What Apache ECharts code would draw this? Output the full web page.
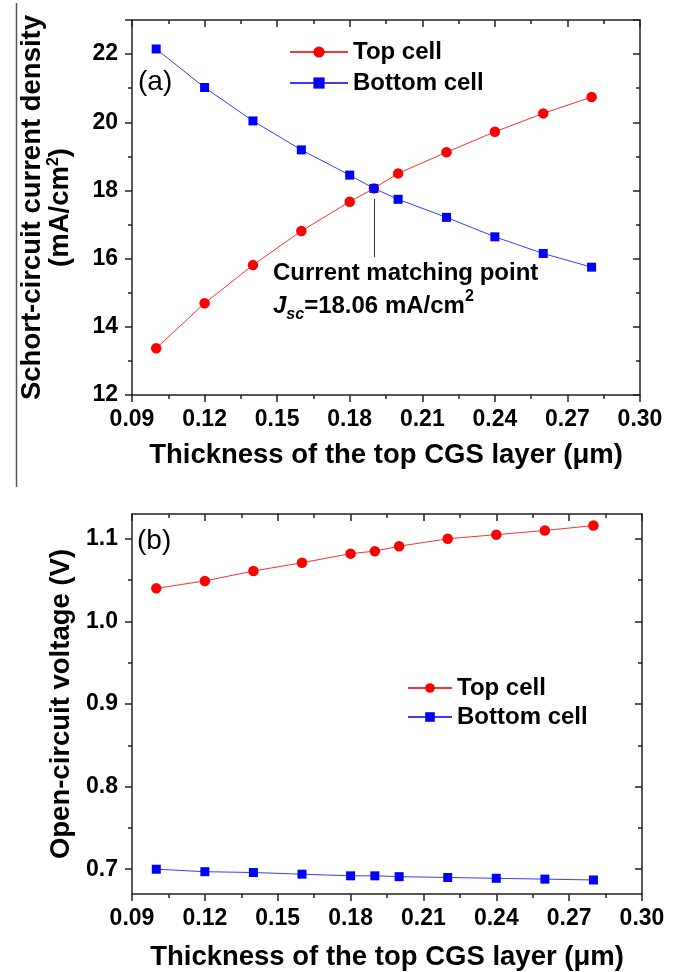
<!DOCTYPE html>
<html>
<head>
<meta charset="utf-8">
<script src="https://cdn.jsdelivr.net/npm/echarts@6/dist/echarts.min.js"></script>
<style>
  html, body { margin: 0; padding: 0; background: #fff; }
  #chart { width: 683px; height: 972px; }
</style>
</head>
<body>
<div id="chart"></div>
<script>
// thickness of the top CGS layer (um)
const thickness = [0.10, 0.12, 0.14, 0.16, 0.18, 0.19, 0.20, 0.22, 0.24, 0.26, 0.28]

// (a) short-circuit current density, mA/cm2
const jscTop = [13.37, 14.69, 15.81, 16.81, 17.67, 18.06, 18.50, 19.12, 19.72, 20.26, 20.74]
const jscBottom = [22.15, 21.02, 20.04, 19.19, 18.45, 18.06, 17.74, 17.21, 16.64, 16.15, 15.75]

// (b) open-circuit voltage, V
const vocTop = [1.040, 1.049, 1.061, 1.071, 1.082, 1.085, 1.091, 1.100, 1.105, 1.110, 1.116]
const vocBottom = [0.700, 0.697, 0.696, 0.694, 0.692, 0.692, 0.691, 0.690, 0.689, 0.688, 0.687]

// tick values for the voltage axis
const vocTicks = [0.7, 0.8, 0.9, 1.0, 1.1]
const vocMinorTicks = [0.75, 0.85, 0.95, 1.05]

// current matching point
const matchX = 0.19
const matchArrow = [16.05, 17.75]

const FONT = '"Liberation Sans", Arial, sans-serif'
const AXIS_COLOR = '#222'
const TITLE_SIZE = 27.5
const TICK_SIZE = 23

const zip = (xs, ys) => xs.map((x, i) => [x, ys[i]])

function xAxisFor(gridIndex, top) {
  return {
    type: 'value',
    gridIndex: gridIndex,
    position: top ? 'top' : 'bottom',
    min: 0.09,
    max: 0.30,
    interval: 0.03,
    name: top ? '' : 'Thickness of the top CGS layer (\u03bcm)',
    nameLocation: 'middle',
    nameGap: gridIndex === 0 ? 46 : 49,
    nameTextStyle: { fontFamily: FONT, fontSize: TITLE_SIZE, fontWeight: 'bold', color: '#000' },
    axisLine: { show: true, onZero: false, lineStyle: { color: AXIS_COLOR, width: 1.5 } },
    axisTick: { show: true, inside: top, length: 7, lineStyle: { color: AXIS_COLOR, width: 1.5 } },
    minorTick: { show: true, splitNumber: 2, length: 4, lineStyle: { color: AXIS_COLOR, width: 1.5 } },
    axisLabel: {
      show: !top,
      margin: 13,
      fontFamily: FONT,
      fontSize: TICK_SIZE,
      fontWeight: 'bold',
      color: '#000',
      formatter: v => v.toFixed(2)
    },
    splitLine: { show: false },
    minorSplitLine: { show: false }
  }
}

function jscAxis(right) {
  return {
    type: 'value',
    gridIndex: 0,
    position: right ? 'right' : 'left',
    min: 12,
    max: 23,
    interval: 2,
    name: right ? '' : 'Schort-circuit current density\n(mA/cm{sup|2})',
    nameLocation: 'middle',
    nameRotate: 90,
    nameGap: 58,
    nameTextStyle: {
      fontFamily: FONT, fontSize: TITLE_SIZE, fontWeight: 'bold', color: '#000', lineHeight: 28,
      rich: { sup: { fontFamily: FONT, fontSize: 16, fontWeight: 'bold', color: '#000', verticalAlign: 'top', lineHeight: 16 } }
    },
    axisLine: { show: true, onZero: false, lineStyle: { color: AXIS_COLOR, width: 1.5 } },
    axisTick: { show: true, inside: right, length: 7, lineStyle: { color: AXIS_COLOR, width: 1.5 } },
    minorTick: { show: true, splitNumber: 2, length: 4, lineStyle: { color: AXIS_COLOR, width: 1.5 } },
    axisLabel: {
      show: !right,
      showMaxLabel: false,
      margin: 14,
      fontFamily: FONT,
      fontSize: TICK_SIZE,
      fontWeight: 'bold',
      color: '#000'
    },
    splitLine: { show: false },
    minorSplitLine: { show: false }
  }
}

function vocAxis(right, minor) {
  return {
    type: 'value',
    gridIndex: 1,
    position: right ? 'right' : 'left',
    min: 0.67,
    max: 1.13,
    name: (right || minor) ? '' : 'Open-circuit voltage (V)',
    nameLocation: 'middle',
    nameRotate: 90,
    nameGap: 56,
    nameTextStyle: { fontFamily: FONT, fontSize: TITLE_SIZE, fontWeight: 'bold', color: '#000' },
    axisLine: { show: !minor, onZero: false, lineStyle: { color: AXIS_COLOR, width: 1.5 } },
    axisTick: {
      show: true,
      inside: right,
      length: minor ? 4 : 7,
      customValues: minor ? vocMinorTicks : vocTicks,
      lineStyle: { color: AXIS_COLOR, width: 1.5 }
    },
    axisLabel: {
      show: !right && !minor,
      customValues: vocTicks,
      margin: 14,
      fontFamily: FONT,
      fontSize: TICK_SIZE,
      fontWeight: 'bold',
      color: '#000',
      formatter: v => v.toFixed(1)
    },
    splitLine: { show: false }
  }
}

function lineSeries(name, xi, yi, data, top) {
  return {
    name: name,
    type: 'line',
    xAxisIndex: xi,
    yAxisIndex: yi,
    data: data,
    symbol: top ? 'circle' : 'rect',
    symbolSize: top ? 10.5 : 9,
    lineStyle: { color: top ? '#ff3030' : '#3a3aff', width: 1 },
    itemStyle: { color: top ? '#ff0000' : '#0000ff' },
    animation: false
  }
}

const legendText = { fontFamily: FONT, fontSize: 24, fontWeight: 'bold', color: '#000' }

const chart = echarts.init(document.getElementById('chart'), null, { renderer: 'canvas' })

const topA = lineSeries('Top cell', 0, 0, zip(thickness, jscTop), true)
topA.markLine = {
  silent: true,
  animation: false,
  symbol: ['none', 'arrow'],
  symbolSize: [0, 8],
  label: { show: false },
  lineStyle: { color: '#333', width: 1, type: 'solid' },
  data: [[{ coord: [matchX, matchArrow[0]] }, { coord: [matchX, matchArrow[1]] }]]
}

chart.setOption({
  backgroundColor: '#fff',
  animation: false,
  grid: [
    { left: 132, right: 43, top: 20, height: 375 },
    { left: 132, right: 41, top: 514, height: 380 }
  ],
  legend: [
    {
      data: ['Top cell', 'Bottom cell'],
      orient: 'vertical',
      left: 289,
      top: 40,
      padding: 0,
      itemWidth: 58,
      itemHeight: 14,
      itemGap: 7,
      selectedMode: false,
      textStyle: legendText
    },
    {
      data: ['Top cell', 'Bottom cell'],
      orient: 'vertical',
      left: 407,
      top: 676,
      padding: 0,
      itemWidth: 44,
      itemHeight: 12,
      itemGap: 5,
      selectedMode: false,
      textStyle: legendText
    }
  ],
  xAxis: [xAxisFor(0, false), xAxisFor(0, true), xAxisFor(1, false), xAxisFor(1, true)],
  yAxis: [
    jscAxis(false), jscAxis(true),
    vocAxis(false, false), vocAxis(true, false),
    vocAxis(false, true), vocAxis(true, true)
  ],
  series: [
    topA,
    lineSeries('Bottom cell', 0, 0, zip(thickness, jscBottom), false),
    lineSeries('Top cell', 2, 2, zip(thickness, vocTop), true),
    lineSeries('Bottom cell', 2, 2, zip(thickness, vocBottom), false)
  ],
  graphic: [
    // page border line on the left of panel (a)
    { type: 'line', shape: { x1: 16.5, y1: 3, x2: 16.5, y2: 487 }, style: { stroke: '#555', lineWidth: 1.5 } },
    { type: 'text', left: 138, top: 68, style: { text: '(a)', fontFamily: FONT, fontSize: 28, fill: '#000' } },
    { type: 'text', left: 137, top: 527, style: { text: '(b)', fontFamily: FONT, fontSize: 28, fill: '#000' } },
    {
      type: 'text', x: 273, y: 273,
      style: { text: 'Current matching point', fontFamily: FONT, fontSize: 24, fontWeight: 'bold', fill: '#000', verticalAlign: 'middle' }
    },
    {
      type: 'text', x: 273, y: 306,
      style: {
        text: '{j|J}{sub|sc}=18.06 mA/cm{sup|2}',
        fontFamily: FONT, fontSize: 24, fontWeight: 'bold', fill: '#000', verticalAlign: 'middle', lineHeight: 34,
        rich: {
          j: { fontFamily: FONT, fontSize: 24, fontWeight: 'bold', fontStyle: 'italic', fill: '#000' },
          sub: { fontFamily: FONT, fontSize: 16, fontWeight: 'bold', fontStyle: 'italic', fill: '#000', verticalAlign: 'bottom', lineHeight: 14 },
          sup: { fontFamily: FONT, fontSize: 16, fontWeight: 'bold', fill: '#000', verticalAlign: 'top', lineHeight: 24 }
        }
      }
    }
  ]
})
</script>
</body>
</html>
